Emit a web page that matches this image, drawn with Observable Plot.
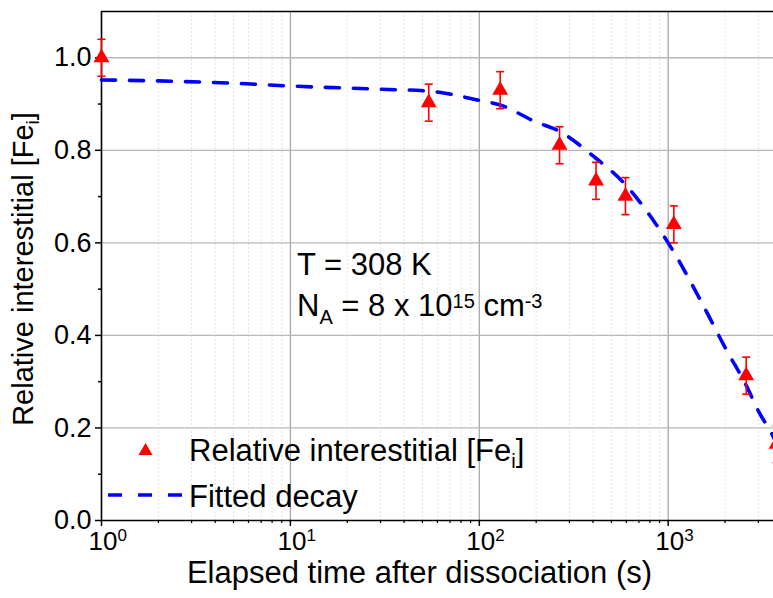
<!DOCTYPE html>
<html><head><meta charset="utf-8">
<script src="https://cdn.jsdelivr.net/npm/d3@7"></script>
<script src="https://cdn.jsdelivr.net/npm/@observablehq/plot@0.6"></script>
<style>body{margin:0;background:#fff} svg{display:block}</style>
</head><body><div id="chart"></div>
<script>
// Measured data
const timeS = [1, 54, 129, 266, 415, 594, 1071, 2588, 3750];
const relFe = [1.00, 0.903, 0.930, 0.811, 0.734, 0.701, 0.640, 0.313, 0.165];
const relErr = [0.04, 0.04, 0.04, 0.04, 0.04, 0.04, 0.04, 0.04, 0.04];
// Fitted decay curve
const fitT = [1, 2, 5, 10, 30, 54, 100, 129, 200, 266, 400, 600, 800, 1000, 1500, 2000, 2588, 3000, 3610, 3800];
const fitY = [0.952, 0.950, 0.945, 0.939, 0.932, 0.928, 0.908, 0.898, 0.861, 0.841, 0.788, 0.724, 0.659, 0.600, 0.472, 0.374, 0.292, 0.237, 0.180, 0.160];
// Ticks
const xMajor = [1, 10, 100, 1000];
const xTickBase = "10";
const xTickExp = ["0", "1", "2", "3"];
const xMinor = [2,3,4,5,6,7,8,9,20,30,40,50,60,70,80,90,200,300,400,500,600,700,800,900,2000,3000];
const yMajor = [0, 0.2, 0.4, 0.6, 0.8, 1.0];
const yMinor = [0.1, 0.3, 0.5, 0.7, 0.9];
const xTitle = "Elapsed time after dissociation (s)";
const yTitle = "Relative interestitial [Fe";
const legendPoints = "Relative interestitial [Fe";
const legendFit = "Fitted decay";

const pts = timeS.map((t, i) => ({t, y: relFe[i], e: relErr[i]}));
const fit = fitT.map((t, i) => ({t, y: fitY[i]}));
const xLabels = xMajor.map((v, i) => ({v, base: xTickBase, exp: xTickExp[i]}));

const capSymbol = {draw(ctx) { ctx.moveTo(-4, 0); ctx.lineTo(4, 0); }};
const FONT = "'Liberation Sans', Arial, sans-serif";

const plot = Plot.plot({
  width: 773, height: 598,
  marginLeft: 101, marginRight: 0, marginTop: 11, marginBottom: 78,
  style: {fontFamily: FONT, fontSize: "27px", background: "#fff", color: "#000", overflow: "hidden"},
  x: {type: "log", domain: [1, 3610]},
  y: {domain: [0, 1.1]},
  marks: [
    Plot.gridX(xMinor, {stroke: "#e2e2e2", strokeOpacity: 1, strokeWidth: 1, strokeDasharray: "2,2"}),
    Plot.gridX(xMajor.slice(1), {stroke: "#a8a8a8", strokeOpacity: 1, strokeWidth: 1.3}),
    Plot.gridY(yMajor.slice(1), {stroke: "#b8b8b8", strokeOpacity: 1, strokeWidth: 1.3}),
    Plot.ruleY([0], {stroke: "#000", strokeWidth: 1.6}),
    Plot.ruleY([1.1], {stroke: "#000", strokeWidth: 1.6}),
    Plot.ruleX([1], {stroke: "#000", strokeWidth: 1.6}),
    Plot.axisY(yMajor, {tickSize: 6, tickPadding: 4, tickFormat: d3.format(".1f"), fontSize: 27, label: null, strokeWidth: 1.5}),
    Plot.axisY(yMinor, {tickSize: 3, tickFormat: () => "", label: null, strokeWidth: 1.5}),
    Plot.axisX(xMajor, {tickSize: 6, tickFormat: () => "", label: null, strokeWidth: 1.5}),
    Plot.axisX(xMinor, {tickSize: 3, tickFormat: () => "", label: null, strokeWidth: 1.2}),
    Plot.text(xLabels, {x: "v", frameAnchor: "bottom", text: "base", textAnchor: "end", dx: 16, dy: 29, fontSize: 26}),
    Plot.text(xLabels, {x: "v", frameAnchor: "bottom", text: "exp", textAnchor: "start", dx: 16, dy: 20.5, fontSize: 17}),
    Plot.text([xTitle], {frameAnchor: "bottom", dx: -18, dy: 62, fontSize: 31}),
    Plot.line(fit, {x: "t", y: "y", stroke: "#0000ff", strokeWidth: 3.6, strokeDasharray: "14,14", curve: "monotone-x"}),
    Plot.ruleX(pts, {x: "t", y1: d => d.y - d.e, y2: d => d.y + d.e, stroke: "#ff0000", strokeWidth: 1.6}),
    Plot.dot(pts, {x: "t", y: d => d.y + d.e, symbol: capSymbol, r: 3, stroke: "#ff0000", fill: "none", strokeWidth: 1.6}),
    Plot.dot(pts, {x: "t", y: d => d.y - d.e, symbol: capSymbol, r: 3, stroke: "#ff0000", fill: "none", strokeWidth: 1.6}),
    Plot.dot(pts, {x: "t", y: "y", symbol: "triangle", r: 5.9, fill: "#ff0000", stroke: "none"})
  ]
});
document.getElementById("chart").appendChild(plot);

const svg = d3.select(plot);
// Y title with subscript
const yt = svg.append("text").attr("transform", "translate(33,269) rotate(-90)")
  .attr("text-anchor", "middle").attr("font-size", 29).attr("fill", "#000");
yt.append("tspan").text(yTitle);
yt.append("tspan").attr("font-size", 19).attr("dy", 6).text("i");
yt.append("tspan").attr("dy", -6).text("]");

// Legend
svg.append("path").attr("d", d3.symbol(d3.symbolTriangle, 85)())
  .attr("transform", "translate(145.5,451)").attr("fill", "#ff0000");
const l1 = svg.append("text").attr("x", 189).attr("y", 461).attr("font-size", 31)
  .attr("text-anchor", "start").attr("fill", "#000");
l1.append("tspan").text(legendPoints);
l1.append("tspan").attr("font-size", 20).attr("dy", 7).text("i");
l1.append("tspan").attr("dy", -7).text("]");
svg.append("line").attr("x1", 108).attr("x2", 182).attr("y1", 495).attr("y2", 495)
  .attr("stroke", "#0000ff").attr("stroke-width", 3.6).attr("stroke-dasharray", "14,16");
svg.append("text").attr("x", 189).attr("y", 506.5).attr("font-size", 31)
  .attr("text-anchor", "start").attr("fill", "#000").text(legendFit);

// Annotation
svg.append("text").attr("x", 297).attr("y", 275).attr("font-size", 31)
  .attr("text-anchor", "start").attr("fill", "#000").text("T = 308 K");
const a2 = svg.append("text").attr("x", 297).attr("y", 316).attr("font-size", 31)
  .attr("text-anchor", "start").attr("fill", "#000");
a2.append("tspan").text("N");
a2.append("tspan").attr("font-size", 20).attr("dy", 8).text("A");
a2.append("tspan").attr("dy", -8).text(" = 8 x 10");
a2.append("tspan").attr("font-size", 20).attr("dy", -7.7).text("15");
a2.append("tspan").attr("dy", 7.7).text(" cm");
a2.append("tspan").attr("font-size", 20).attr("dy", -7.7).text("-3");
</script>
</body></html>
